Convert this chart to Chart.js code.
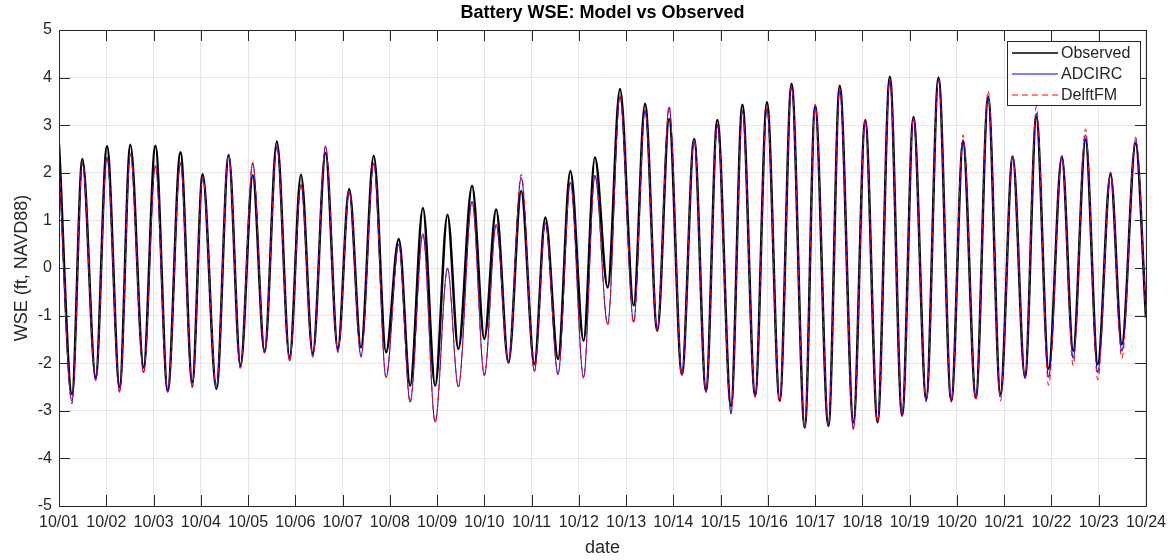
<!DOCTYPE html>
<html>
<head>
<meta charset="utf-8">
<script src="https://cdn.jsdelivr.net/npm/chart.js@4.4.1/dist/chart.umd.min.js"></script>
<style>
  html, body { margin: 0; padding: 0; background: #ffffff; }
  #wrap { width: 1173px; height: 560px; }
</style>
</head>
<body>
<div id="wrap"><canvas id="c" width="1173" height="560"></canvas></div>
<script>
// Date tick labels (one per day, x = days since 10/01 00:00)
const dateLabels = ['10/01','10/02','10/03','10/04','10/05','10/06','10/07','10/08',
  '10/09','10/10','10/11','10/12','10/13','10/14','10/15','10/16','10/17','10/18',
  '10/19','10/20','10/21','10/22','10/23','10/24'];

// Times (days since 10/01) of successive high and low waters
const tideTime = [
  0.00, 0.275, 0.495, 0.776, 1.015, 1.283, 1.51, 1.79, 2.04, 2.30,
  2.57, 2.82, 3.04, 3.33, 3.59, 3.84, 4.10, 4.35, 4.61, 4.88,
  5.12, 5.37, 5.64, 5.90, 6.14, 6.39, 6.66, 6.92, 7.19, 7.43,
  7.70, 7.96, 8.22, 8.45, 8.74, 9.00, 9.25, 9.51, 9.78, 10.06,
  10.29, 10.56, 10.82, 11.10, 11.34, 11.61, 11.87, 12.16, 12.40, 12.66,
  12.91, 13.18, 13.44, 13.69, 13.93, 14.22, 14.46, 14.73, 14.98, 15.25,
  15.50, 15.78, 16.00, 16.28, 16.52, 16.81, 17.06, 17.32, 17.58, 17.84,
  18.08, 18.35, 18.61, 18.88, 19.13, 19.40, 19.66, 19.92, 20.18, 20.44,
  20.68, 20.94, 21.22, 21.46, 21.72, 21.98, 22.25, 22.49, 22.78, 23.00
];

// Water surface elevation (ft, NAVD88) at those times
const observedWSE = [
  2.60, -2.65, 2.29, -2.30, 2.56, -2.50, 2.59, -2.09, 2.57, -2.58,
  2.43, -2.40, 1.97, -2.54, 2.37, -2.05, 1.95, -1.77, 2.66, -1.88,
  1.96, -1.80, 2.42, -1.70, 1.66, -1.67, 2.36, -1.77, 0.61, -2.47,
  1.26, -2.47, 1.12, -1.70, 1.73, -1.49, 1.23, -1.98, 1.62, -2.02,
  1.06, -1.91, 2.04, -1.53, 2.32, -0.41, 3.76, -0.79, 3.45, -1.32,
  3.13, -2.23, 2.71, -2.58, 3.11, -2.90, 3.43, -2.68, 3.48, -2.79,
  3.87, -3.35, 3.41, -3.32, 3.83, -3.24, 3.11, -3.24, 4.02, -3.10,
  3.17, -2.75, 4.00, -2.79, 2.64, -2.72, 3.59, -2.65, 2.34, -2.30,
  3.17, -2.12, 2.34, -1.74, 2.70, -2.02, 1.97, -1.60, 2.62, -1.04
];

const adcircWSE = [
  2.20, -2.80, 2.20, -2.35, 2.32, -2.60, 2.40, -2.20, 2.15, -2.60,
  2.20, -2.50, 1.90, -2.50, 2.38, -2.10, 2.20, -1.75, 2.55, -1.95,
  1.75, -1.85, 2.55, -1.75, 1.60, -1.85, 2.20, -2.30, 0.50, -2.82,
  0.72, -3.24, 0.00, -2.50, 1.40, -2.26, 0.90, -2.00, 1.90, -2.16,
  0.95, -2.23, 1.80, -2.30, 1.95, -1.18, 3.60, -1.14, 3.30, -1.30,
  3.38, -2.25, 2.70, -2.60, 3.00, -3.05, 3.30, -2.70, 3.35, -2.80,
  3.80, -3.35, 3.42, -3.30, 3.75, -3.38, 3.10, -3.22, 3.95, -3.10,
  3.15, -2.80, 3.97, -2.80, 2.70, -2.75, 3.60, -2.70, 2.35, -2.30,
  3.25, -2.30, 2.35, -1.90, 2.80, -2.20, 2.00, -1.75, 2.70, -1.00
];

const delftWSE = [
  2.22, -2.86, 2.22, -2.37, 2.35, -2.62, 2.42, -2.22, 2.15, -2.62,
  2.22, -2.52, 1.92, -2.52, 2.40, -2.12, 2.22, -1.78, 2.57, -1.97,
  1.78, -1.88, 2.57, -1.78, 1.62, -1.88, 2.22, -2.30, 0.52, -2.82,
  0.72, -3.24, -0.02, -2.50, 1.40, -2.26, 0.92, -2.00, 1.97, -2.18,
  0.95, -2.25, 1.80, -2.32, 1.95, -1.20, 3.62, -1.16, 3.32, -1.32,
  3.40, -2.27, 2.72, -2.62, 3.02, -3.07, 3.32, -2.72, 3.37, -2.82,
  3.82, -3.37, 3.44, -3.32, 3.77, -3.40, 3.12, -3.24, 3.97, -3.12,
  3.17, -2.82, 3.99, -2.82, 2.80, -2.78, 3.73, -2.80, 2.38, -2.32,
  3.40, -2.47, 2.36, -2.05, 2.92, -2.35, 2.02, -1.90, 2.75, -1.02
];

const FONT = "'Liberation Sans', Arial, Helvetica, sans-serif";
const AXIS_COLOR = '#262626';
const SERIES_STYLE = [
  { color: '#000000', width: 2.5, dash: [] },
  { color: '#0000ff', width: 1, dash: [] },
  { color: '#ff0000', width: 1, dash: [6, 4] }
];

function toPoints(values) {
  return tideTime.map((t, i) => ({ x: t, y: values[i] }));
}

// Axes box, inward tick marks, title, axis labels and legend
const decorations = {
  id: 'decorations',
  afterDraw(chart) {
    const { ctx, chartArea: a, scales } = chart;
    const tick = 11;
    ctx.save();
    ctx.strokeStyle = AXIS_COLOR;
    ctx.lineWidth = 1;
    ctx.beginPath();
    scales.x.ticks.forEach(t => {
      const px = Math.round(scales.x.getPixelForValue(t.value)) + 0.5;
      ctx.moveTo(px, a.bottom); ctx.lineTo(px, a.bottom - tick);
      ctx.moveTo(px, a.top); ctx.lineTo(px, a.top + tick);
    });
    scales.y.ticks.forEach(t => {
      const py = Math.round(scales.y.getPixelForValue(t.value)) + 0.5;
      ctx.moveTo(a.left, py); ctx.lineTo(a.left + tick, py);
      ctx.moveTo(a.right, py); ctx.lineTo(a.right - tick, py);
    });
    ctx.stroke();
    ctx.strokeRect(Math.round(a.left) + 0.5, Math.round(a.top) + 0.5,
      Math.round(a.right - a.left), Math.round(a.bottom - a.top));

    // title
    const cx = (a.left + a.right) / 2;
    ctx.fillStyle = '#000000';
    ctx.font = 'bold 18px ' + FONT;
    ctx.textAlign = 'center';
    ctx.textBaseline = 'middle';
    ctx.fillText('Battery WSE: Model vs Observed', cx, 13);

    // axis labels
    ctx.fillStyle = AXIS_COLOR;
    ctx.font = '18px ' + FONT;
    ctx.fillText('date', cx, 548);
    ctx.save();
    ctx.translate(22, (a.top + a.bottom) / 2);
    ctx.rotate(-Math.PI / 2);
    ctx.fillText('WSE (ft, NAVD88)', 0, 0);
    ctx.restore();

    // legend
    const bx = 1007.5, by = 41.5, bw = 133, bh = 64;
    ctx.fillStyle = '#ffffff';
    ctx.fillRect(bx, by, bw, bh);
    ctx.strokeStyle = AXIS_COLOR;
    ctx.strokeRect(bx, by, bw, bh);
    ctx.font = '16px ' + FONT;
    ctx.textAlign = 'left';
    chart.data.datasets.forEach((ds, i) => {
      const st = SERIES_STYLE[i];
      const y = 53 + i * 21;
      ctx.save();
      ctx.strokeStyle = st.color;
      ctx.lineWidth = Math.min(st.width, 1.5);
      ctx.setLineDash(st.dash);
      ctx.beginPath();
      ctx.moveTo(1012, y); ctx.lineTo(1058, y);
      ctx.stroke();
      ctx.restore();
      ctx.fillStyle = AXIS_COLOR;
      ctx.fillText(ds.label, 1061, y + 1);
    });
    ctx.restore();
  }
};

const names = ['Observed', 'ADCIRC', 'DelftFM'];
const series = [observedWSE, adcircWSE, delftWSE];

new Chart(document.getElementById('c'), {
  type: 'line',
  data: {
    datasets: series.map((vals, i) => ({
      label: names[i],
      data: toPoints(vals),
      borderColor: SERIES_STYLE[i].color,
      borderWidth: SERIES_STYLE[i].width,
      borderDash: SERIES_STYLE[i].dash,
      order: 3 - i
    }))
  },
  options: {
    responsive: false,
    animation: false,
    devicePixelRatio: 1,
    layout: { padding: { left: 0, right: 26, top: 30, bottom: 0 } },
    elements: {
      point: { radius: 0, hoverRadius: 0 },
      line: { cubicInterpolationMode: 'monotone', fill: false }
    },
    plugins: {
      legend: { display: false },
      title: { display: false },
      tooltip: { enabled: false }
    },
    scales: {
      x: {
        type: 'linear', min: 0, max: 23,
        afterFit: s => { s.height = 54; },
        border: { display: false },
        grid: { color: '#e6e6e6', drawTicks: false },
        ticks: {
          stepSize: 1, autoSkip: false, maxRotation: 0, padding: 7,
          color: AXIS_COLOR, font: { family: FONT, size: 16 },
          callback: v => dateLabels[v]
        }
      },
      y: {
        min: -5, max: 5,
        afterFit: s => { s.width = 59; },
        border: { display: false },
        grid: { color: '#e6e6e6', drawTicks: false },
        ticks: {
          stepSize: 1, padding: 7,
          color: AXIS_COLOR, font: { family: FONT, size: 16 }
        }
      }
    }
  },
  plugins: [decorations]
});
</script>
</body>
</html>
